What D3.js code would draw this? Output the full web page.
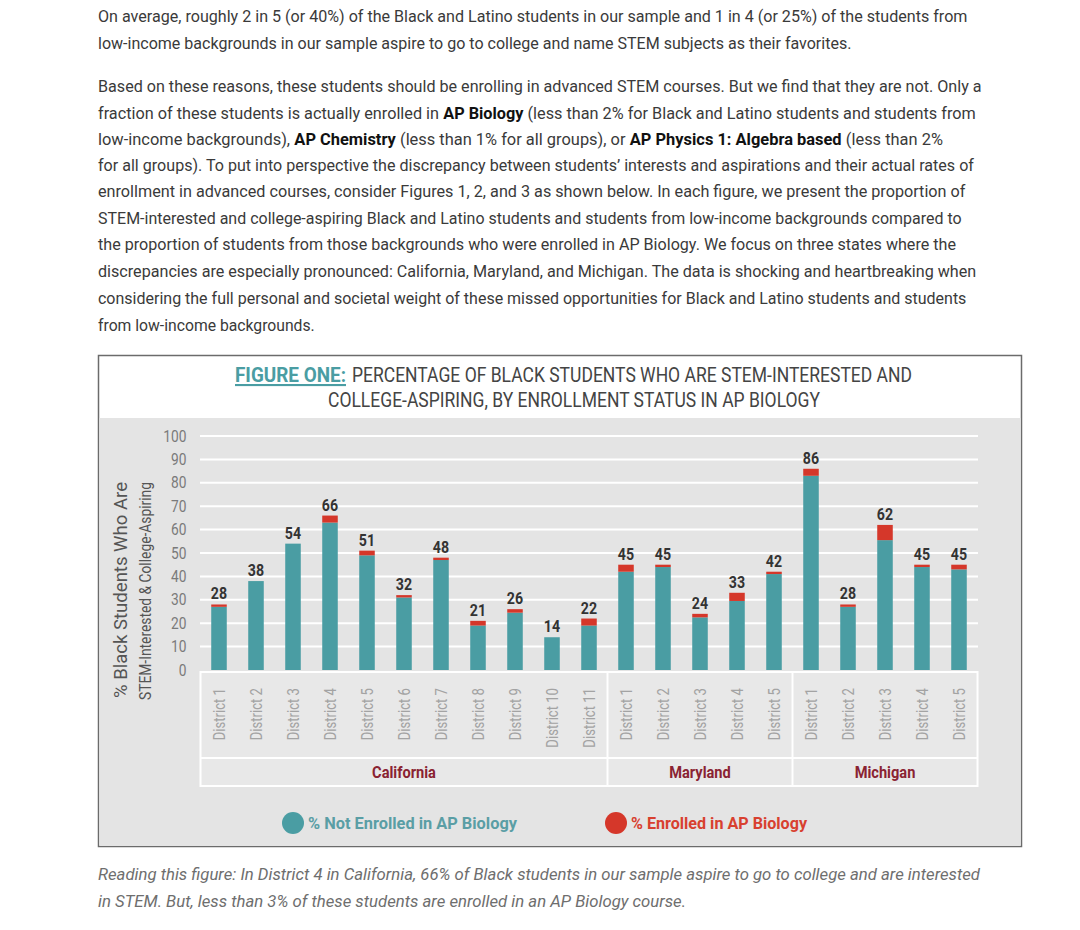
<!DOCTYPE html>
<html lang="en">
<head>
<meta charset="utf-8">
<title>Figure One</title>
<script src="https://d3js.org/d3.v7.min.js"></script>
<style>
  body { margin: 0; background: #fff; }
  svg { display: block; }
  .para text { white-space: pre; }
</style>
</head>
<body>
<script>
// chart data
var states = ["California","California","California","California","California","California","California","California","California","California","California",
              "Maryland","Maryland","Maryland","Maryland","Maryland",
              "Michigan","Michigan","Michigan","Michigan","Michigan"];
var districts = ["District 1","District 2","District 3","District 4","District 5","District 6","District 7","District 8","District 9","District 10","District 11",
                 "District 1","District 2","District 3","District 4","District 5",
                 "District 1","District 2","District 3","District 4","District 5"];
var totals   = [28, 38, 54, 66, 51, 32, 48, 21, 26, 14, 22, 45, 45, 24, 33, 42, 86, 28, 62, 45, 45];
var enrolled = [1, 0, 0, 3, 2, 1, 1, 2, 1.5, 0, 3, 3, 1, 1.5, 3.5, 1, 3, 1, 6.5, 1, 2];
var yTicks = [0, 10, 20, 30, 40, 50, 60, 70, 80, 90, 100];
var seriesNames = ["% Not Enrolled in AP Biology", "% Enrolled in AP Biology"];

// page text
var paraLines = [
  [["On average, roughly 2 in 5 (or 40%) of the Black and Latino students in our sample and 1 in 4 (or 25%) of the students from"]],
  [["low-income backgrounds in our sample aspire to go to college and name STEM subjects as their favorites."]],
  [["Based on these reasons, these students should be enrolling in advanced STEM courses. But we find that they are not. Only a"]],
  [["fraction of these students is actually enrolled in "], ["AP Biology", 1], [" (less than 2% for Black and Latino students and students from"]],
  [["low-income backgrounds), "], ["AP Chemistry", 1], [" (less than 1% for all groups), or "], ["AP Physics 1: Algebra based", 1], [" (less than 2%"]],
  [["for all groups). To put into perspective the discrepancy between students\u2019 interests and aspirations and their actual rates of"]],
  [["enrollment in advanced courses, consider Figures 1, 2, and 3 as shown below. In each figure, we present the proportion of"]],
  [["STEM-interested and college-aspiring Black and Latino students and students from low-income backgrounds compared to"]],
  [["the proportion of students from those backgrounds who were enrolled in AP Biology. We focus on three states where the"]],
  [["discrepancies are especially pronounced: California, Maryland, and Michigan. The data is shocking and heartbreaking when"]],
  [["considering the full personal and societal weight of these missed opportunities for Black and Latino students and students"]],
  [["from low-income backgrounds."]]
];
var paraY   = [21.5, 49, 92, 118.5, 145, 171, 197, 223.5, 250, 277, 304, 331];
var paraEnd = [968, 852, 982, 976, 943, 974, 966, 962, 957, 977, 967, 315];

var captionLines = [
  "Reading this figure: In District 4 in California, 66% of Black students in our sample aspire to go to college and are interested",
  "in STEM. But, less than 3% of these students are enrolled in an AP Biology course."
];

var width = 1080, height = 930;
var teal = "#4a9da3", red = "#d5372a";
var font = "Roboto, 'Liberation Sans', sans-serif";

var svg = d3.select("body").append("svg")
    .attr("width", width)
    .attr("height", height)
    .style("font-family", font);

// paragraphs above the figure: each bold/plain run is its own text,
// squeezed by the same factor so the line ends where the reference does
var para = svg.append("g").attr("class", "para");
paraLines.forEach(function(parts, i) {
  var runs = parts.map(function(p) {
    return para.append("text")
        .attr("font-size", 17)
        .attr("font-weight", p[1] ? "bold" : null)
        .attr("fill", p[1] ? "#111" : "#3a3a3a")
        .text(p[0]);
  });
  var lens = runs.map(function(r) { return r.node().getComputedTextLength(); });
  var k = (paraEnd[i] - 98) / d3.sum(lens);
  var cx = 98;
  runs.forEach(function(r, j) {
    r.attr("transform", "translate(" + cx + "," + paraY[i] + ") scale(" + k + ",1)");
    cx += lens[j] * k;
  });
});

// figure box
svg.append("rect")
    .attr("x", 98.5).attr("y", 355.5)
    .attr("width", 923).attr("height", 491)
    .attr("fill", "#fff")
    .attr("stroke", "#6b6b6b")
    .attr("stroke-width", 1.5);

svg.append("rect")
    .attr("x", 99.5).attr("y", 418)
    .attr("width", 921).attr("height", 428)
    .attr("fill", "#e4e4e4");

// title
svg.append("text")
    .attr("x", 235).attr("y", 382)
    .attr("font-size", 21)
    .attr("font-weight", "bold")
    .attr("fill", teal)
    .attr("text-decoration", "underline")
    .attr("textLength", 111)
    .attr("lengthAdjust", "spacingAndGlyphs")
    .text("FIGURE ONE:");
svg.append("text")
    .attr("x", 352).attr("y", 382)
    .attr("font-size", 21)
    .attr("fill", "#444")
    .attr("textLength", 560)
    .attr("lengthAdjust", "spacingAndGlyphs")
    .text("PERCENTAGE OF BLACK STUDENTS WHO ARE STEM-INTERESTED AND");

svg.append("text")
    .attr("x", 328).attr("y", 407)
    .attr("font-size", 21)
    .attr("fill", "#444")
    .attr("textLength", 492)
    .attr("lengthAdjust", "spacingAndGlyphs")
    .text("COLLEGE-ASPIRING, BY ENROLLMENT STATUS IN AP BIOLOGY");

// scales
var keys = districts.map(function(d, i) { return states[i] + "|" + d; });

var x = d3.scaleBand()
    .domain(keys)
    .range([200.5, 977.5])
    .paddingInner(0.58)
    .paddingOuter(0.29);

var y = d3.scaleLinear()
    .domain([0, 100])
    .range([670, 436]);

// gridlines
svg.append("g")
    .selectAll("line")
    .data(yTicks.filter(function(d) { return d > 0; }))
    .enter().append("line")
    .attr("x1", 200).attr("x2", 978)
    .attr("y1", function(d) { return y(d); })
    .attr("y2", function(d) { return y(d); })
    .attr("stroke", "#fff")
    .attr("stroke-width", 2);

// y axis labels
var yAxis = svg.append("g")
    .attr("transform", "translate(196,0)")
    .call(d3.axisLeft(y).tickValues(yTicks).tickSize(0).tickPadding(11));
yAxis.select(".domain").remove();
yAxis.selectAll("text")
    .attr("font-family", font)
    .attr("font-size", 16)
    .attr("fill", "#7a7a7a")
    .attr("transform", "scale(0.86,1)");

// axis title
svg.append("text")
    .attr("transform", "translate(127,590) rotate(-90)")
    .attr("text-anchor", "middle")
    .attr("font-size", 17.5)
    .attr("fill", "#555")
    .attr("textLength", 216)
    .attr("lengthAdjust", "spacingAndGlyphs")
    .text("% Black Students Who Are");
svg.append("text")
    .attr("transform", "translate(151,591) rotate(-90)")
    .attr("text-anchor", "middle")
    .attr("font-size", 16.5)
    .attr("fill", "#555")
    .attr("textLength", 218)
    .attr("lengthAdjust", "spacingAndGlyphs")
    .text("STEM-Interested & College-Aspiring");

// category panel
var panel = svg.append("g");
panel.append("rect")
    .attr("x", x.range()[0]).attr("y", 672)
    .attr("width", x.range()[1] - x.range()[0]).attr("height", 114)
    .attr("fill", "#e8e8e8")
    .attr("stroke", "#fff")
    .attr("stroke-width", 2);
panel.append("line")
    .attr("x1", x.range()[0]).attr("x2", x.range()[1])
    .attr("y1", 758).attr("y2", 758)
    .attr("stroke", "#fff").attr("stroke-width", 2);

var groups = [];
states.forEach(function(s, i) {
  var g = groups[groups.length - 1];
  if (!g || g.name !== s) groups.push(g = { name: s, first: keys[i], last: keys[i] });
  g.last = keys[i];
});
var half = (x.step() - x.bandwidth()) / 2;
groups.forEach(function(g, i) {
  var x0 = x(g.first) - half, x1 = x(g.last) + x.bandwidth() + half;
  if (i > 0) {
    panel.append("line")
        .attr("x1", x0).attr("x2", x0)
        .attr("y1", 672).attr("y2", 786)
        .attr("stroke", "#fff").attr("stroke-width", 2);
  }
  panel.append("text")
      .attr("transform", "translate(" + (x0 + x1) / 2 + ",778) scale(0.86,1)")
      .attr("text-anchor", "middle")
      .attr("font-size", 17)
      .attr("font-weight", "bold")
      .attr("fill", "#8a2332")
      .text(g.name);
});

panel.selectAll(".dist")
    .data(keys)
    .enter().append("text")
    .attr("class", "dist")
    .attr("transform", function(d) {
      return "translate(" + (x(d) + x.bandwidth() / 2 + 5.5) + ",688) rotate(-90) scale(0.82,1)";
    })
    .attr("text-anchor", "end")
    .attr("font-size", 16)
    .attr("fill", "#a3a3a3")
    .text(function(d, i) { return districts[i]; });

// stacked bars
var rows = totals.map(function(t, i) {
  return { key: keys[i], not: t - enrolled[i], enr: enrolled[i], total: t };
});
var stack = d3.stack().keys(["not", "enr"])(rows);
var colors = [teal, red];

svg.append("g")
    .selectAll("g")
    .data(stack)
    .enter().append("g")
    .attr("fill", function(d, i) { return colors[i]; })
    .selectAll("rect")
    .data(function(d) { return d; })
    .enter().append("rect")
    .attr("x", function(d) { return x(d.data.key); })
    .attr("width", x.bandwidth())
    .attr("y", function(d) { return y(d[1]); })
    .attr("height", function(d) { return y(d[0]) - y(d[1]); });

// value labels
svg.append("g")
    .selectAll("text")
    .data(rows)
    .enter().append("text")
    .attr("transform", function(d) {
      return "translate(" + (x(d.key) + x.bandwidth() / 2) + "," + (y(d.total) - 5) + ") scale(0.86,1)";
    })
    .attr("text-anchor", "middle")
    .attr("font-size", 16.5)
    .attr("font-weight", "bold")
    .attr("fill", "#333")
    .text(function(d) { return d.total; });

// legend
var legendX = [293, 616];
var legendLen = [209, 176];
var legend = svg.append("g")
    .selectAll("g")
    .data(seriesNames)
    .enter().append("g")
    .attr("transform", function(d, i) { return "translate(" + legendX[i] + ",823)"; });
legend.append("circle")
    .attr("r", 11)
    .attr("fill", function(d, i) { return colors[i]; });
legend.append("text")
    .attr("x", 15)
    .attr("y", 6)
    .attr("font-size", 17)
    .attr("font-weight", "bold")
    .attr("fill", function(d, i) { return i ? "#d8402f" : "#5a9ea5"; })
    .attr("textLength", function(d, i) { return legendLen[i]; })
    .attr("lengthAdjust", "spacingAndGlyphs")
    .text(function(d) { return d; });

// caption under the figure
var capEnd = [980, 686];
captionLines.forEach(function(line, i) {
  svg.append("text")
      .attr("x", 98)
      .attr("y", 880 + i * 27)
      .attr("font-size", 16.5)
      .attr("font-style", "italic")
      .attr("fill", "#6e6e6e")
      .attr("textLength", capEnd[i] - 98)
      .attr("lengthAdjust", "spacingAndGlyphs")
      .text(line);
});
</script>
</body>
</html>
